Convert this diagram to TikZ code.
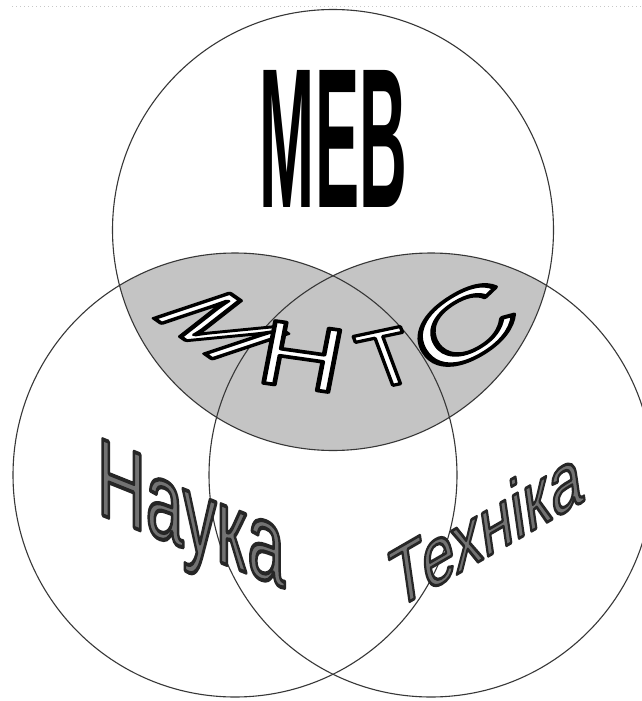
\documentclass[tikz,border=0pt]{standalone}
\usepackage{fontspec}
\setmainfont{Liberation Sans}
\usepackage{graphicx}
\definecolor{shadecol}{RGB}{196,196,196}
\definecolor{ringcol}{RGB}{55,55,55}
\definecolor{dotcol}{RGB}{200,200,200}
% outlined text: #1 = pdf colour operators (fill g, stroke G), #2 = stroke width, #3 = text
\newcommand\olt[3]{%
  \leavevmode
  \special{pdf:literal direct q #1 2 Tr #2 w 1 j}%
  #3%
  \special{pdf:literal direct 0 Tr Q}}
\begin{document}
\begin{tikzpicture}[x=1pt,y=-1pt,
  ring/.style={draw=ringcol, line width=1.1pt},
  glyph/.style={inner sep=0pt, outer sep=0pt, font=\fontsize{60pt}{60pt}\selectfont},
  whiteword/.style={glyph},
  grayword/.style={glyph}]
\useasboundingbox (0,0) rectangle (642,701);
\fill[white] (0,0) rectangle (642,701);
\draw[dotcol, line width=0.8pt, dash pattern=on 1pt off 3pt] (12,6) -- (642,6);
\begin{scope}
  \clip (0,0) rectangle (642,701);
  \coordinate (ctop) at (333,230);
  \coordinate (cleft) at (235,475);
  \coordinate (cright) at (431,475);
  \begin{scope}
    \clip (ctop) circle[radius=220.5];
    \fill[shadecol] (cleft) circle[radius=222] (cright) circle[radius=222];
  \end{scope}
  \draw[ring] (ctop) circle[radius=220.5];
  \draw[ring] (cleft) circle[radius=222];
  \draw[ring] (cright) circle[radius=222];
\end{scope}
% top word
\node[inner sep=0pt, font=\bfseries] (mev) at (333.5,138.5) {\resizebox{147pt}{137pt}{МЕВ}};
% arched white letters
\node[whiteword, rotate=-35, xslant=0.74] (lm) at (221,326) {\resizebox{88pt}{64pt}{\olt{1 g 0 G}{2.4}{М}}};
\node[whiteword, rotate=-8, xslant=0.05] (ln) at (301.7,356.5) {\resizebox{84pt}{63pt}{\olt{1 g 0 G}{2.4}{Н}}};
\node[whiteword, rotate=12, xslant=-0.15] (lt) at (386.7,358) {\resizebox{52pt}{56pt}{\olt{1 g 0 G}{2.4}{Т}}};
\node[whiteword, rotate=32] (lc) at (464,327) {\resizebox{108pt}{64pt}{\olt{1 g 0 G}{2.4}{С}}};
% gray words
\node[grayword, yslant=-0.4, anchor=base west] (nauka) at (97,513) {\resizebox{188pt}{76pt}{\olt{0.45 g 0.15 G}{2.2}{Наука}}};
\node[grayword, rotate=30, xslant=0.4, anchor=base west] (tekh) at (395,610) {\resizebox{219pt}{55pt}{\olt{0.45 g 0.15 G}{2.2}{Техніка}}};
\end{tikzpicture}
\end{document}
